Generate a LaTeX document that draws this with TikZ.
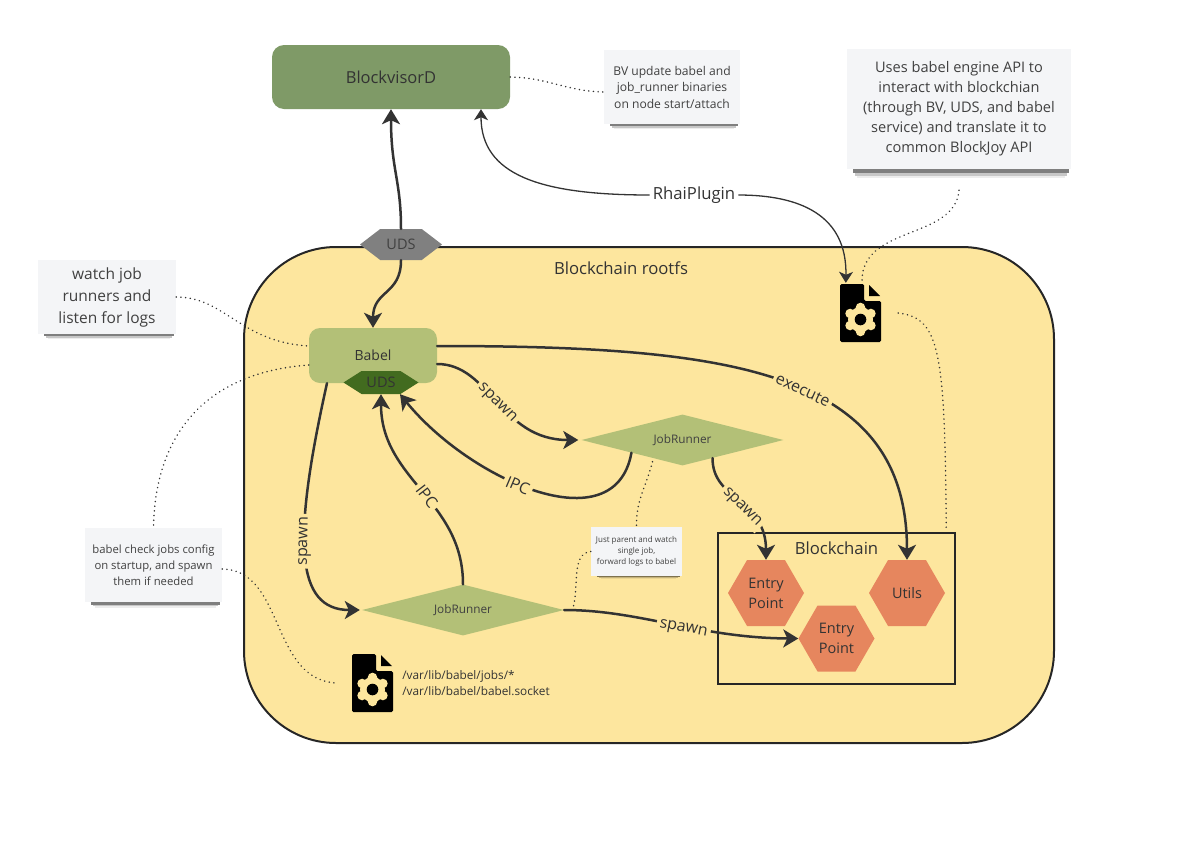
\documentclass[tikz,border=0pt]{standalone}
\usepackage{fontspec}
\setmainfont{Open Sans}
\usepackage{tikz}
\usetikzlibrary{positioning,arrows.meta,shapes.geometric,shapes.symbols}
\definecolor{mygreen}{RGB}{127,154,103}
\definecolor{mylime}{RGB}{179,192,119}
\definecolor{mymoss}{RGB}{66,107,31}
\definecolor{myyellow}{RGB}{253,230,158}
\definecolor{myorange}{RGB}{230,134,94}
\definecolor{mypaper}{RGB}{244,245,247}
\definecolor{myink}{RGB}{51,51,51}
\newcommand{\filedoc}{
\fill[black,rounded corners=1.5pt] (-20.5,-29) -- (3.5,-29) -- (3.5,-12) -- (20.5,-12) -- (20.5,29) -- (-20.5,29) -- cycle;
\fill[black] (8.5,-28) -- (19.5,-17) -- (8.5,-17) -- cycle;
\fill[myyellow] (0,6.5) circle (12.5pt);
\foreach \ang in {30,90,150,210,270,330}
\fill[myyellow] (0,6.5) ++(\ang:12) circle (4.8pt);
\fill[black] (0,6.5) circle (5.8pt);
}
\tikzset{noteshade/.style={append after command={\pgfextra{
\fill[black,opacity=.5] ([xshift=6pt]\tikzlastnode.south west) rectangle ([xshift=-2pt,yshift=-#1*.4pt]\tikzlastnode.south east);
\fill[black,opacity=.22] ([xshift=8pt,yshift=-#1*.4pt]\tikzlastnode.south west) rectangle ([xshift=-4pt,yshift=-#1*.7pt]\tikzlastnode.south east);
\fill[black,opacity=.07] ([xshift=10pt,yshift=-#1*.7pt]\tikzlastnode.south west) rectangle ([xshift=-6pt,yshift=-#1*1pt]\tikzlastnode.south east);
}}}}

\begin{document}
\begin{tikzpicture}[x=1pt,y=-1pt,on grid,inner sep=0pt]
\tikzstyle{bvbox}=[rectangle, rounded corners=12pt, fill=mygreen, minimum width=238pt, minimum height=64pt, text=black!80, font=\fontsize{16.5}{20}\selectfont]
\tikzstyle{babelbox}=[rectangle, rounded corners=11pt, fill=mylime, minimum width=128pt, minimum height=55pt, text=black!80, font=\fontsize{14}{16}\selectfont]
\tikzstyle{rootfs}=[rectangle, rounded corners=92pt, fill=myyellow, draw=black!85, line width=2pt, minimum width=810pt, minimum height=496pt]
\tikzstyle{udshex}=[signal, signal to=west and east, signal pointer angle=75, minimum width=82pt, minimum height=31pt, fill=black!50, text=black!75, font=\fontsize{14.5}{16}\selectfont]
\tikzstyle{udsinner}=[signal, signal to=west and east, signal pointer angle=65, minimum width=75pt, minimum height=23pt, fill=mymoss, text=black!80, font=\fontsize{14.5}{16}\selectfont]
\tikzstyle{runner}=[diamond, aspect=4, minimum width=202pt, minimum height=51pt, fill=mylime, text=black!75, font=\fontsize{11.8}{14}\selectfont]
\tikzstyle{hexa}=[signal, signal to=west and east, signal pointer angle=120, minimum width=76pt, minimum height=66pt, fill=myorange, align=center, text=black!80, font=\fontsize{14.5}{20}\selectfont]
\tikzstyle{chain}=[rectangle, draw=black!85, line width=2.5pt, minimum width=237pt, minimum height=151pt]
\tikzstyle{note}=[rectangle, fill=mypaper, align=center, text=black!75]
\tikzstyle{filedoc}=[rectangle, minimum width=41pt, minimum height=58pt, path picture={\filedoc}]
\tikzstyle{title}=[text=black!80, font=\fontsize{16.7}{20}\selectfont]
\tikzstyle{wire}=[line width=2.5pt, draw=myink, line cap=round, -{Stealth[length=15pt,width=18pt,inset=4pt]}]
\tikzstyle{thinwire}=[line width=1.3pt, draw=myink, -{Stealth[length=11pt,width=14pt,inset=3pt]}]
\tikzstyle{hint}=[line width=1.6pt, draw=myink, line cap=round, dash pattern=on .1pt off 4.6pt]
\tikzstyle{tag}=[fill=myyellow, inner sep=3pt, text=black!80, font=\fontsize{16}{20}\selectfont]
\useasboundingbox (0,0) rectangle (1179,847);
\node[bvbox] (bvd) at (391,77) {BlockvisorD};
\node[rootfs] (rootfs) at (649,495) {};
\node[title] (rootfslabel) [above left=227pt and 28pt of rootfs] {Blockchain rootfs};
\node[udshex] (uds) [below right=167.5pt and 10pt of bvd] {UDS};
\node[babelbox] (babel) [below left=111pt and 28pt of uds] {Babel};
\node[udsinner] (udsb) [below right=27pt and 8pt of babel] {UDS};
\node[runner] (runnera) [below right=84.5pt and 309.5pt of babel] {JobRunner};
\node[runner] (runnerb) [below right=254.5pt and 90pt of babel] {JobRunner};
\node[chain] (chainbox) [above right=1.5pt and 373.5pt of runnerb] {};
\node[title] (chainlabel) [above=60.5pt of chainbox] {Blockchain};
\node[hexa] (entrya) [above left=15.5pt and 70.5pt of chainbox] {Entry\\Point};
\node[hexa] (entryb) [below=30pt of chainbox] {Entry\\Point};
\node[hexa] (utils) [above right=15.5pt and 70.5pt of chainbox] {Utils};
\node[filedoc] (pluginfile) [below right=236pt and 469.5pt of bvd] {};
\node[filedoc] (jobfile) [below left=73pt and 90.5pt of runnerb] {};
\node[align=left, text=black!80, font=\fontsize{11.8}{16}\selectfont] (jobpaths) [right=103.5pt of jobfile] {/var/lib/babel/jobs/*\\/var/lib/babel/babel.socket};
\node[note, noteshade=5, minimum width=136pt, minimum height=74pt, font=\fontsize{12.1}{16.5}\selectfont] (bvnote) [below right=10pt and 281pt of bvd] {BV update babel and\\job\_runner binaries\\on node start/attach};
\node[note, noteshade=9, minimum width=224pt, minimum height=120pt, font=\fontsize{14.6}{20}\selectfont] (apinote) [below right=32pt and 568pt of bvd] {Uses babel engine API to\\interact with blockchian\\(through BV, UDS, and babel\\service) and translate it to\\common BlockJoy API};
\node[note, noteshade=5, minimum width=138pt, minimum height=74pt, font=\fontsize{15.5}{22}\selectfont] (watchnote) [above left=58.5pt and 266pt of babel] {watch job\\runners and\\listen for logs};
\node[note, noteshade=6, minimum width=137pt, minimum height=74pt, font=\fontsize{11.3}{16}\selectfont] (checknote) [below left=209.5pt and 219.5pt of babel] {babel check jobs config\\on startup, and spawn\\them if needed};
\node[note, noteshade=2.5, minimum width=91pt, minimum height=49pt, font=\fontsize{8}{11}\selectfont] (parentnote) [above right=58.5pt and 173.5pt of runnerb] {Just parent and watch\\single job,\\forward logs to babel};
\node[fill=white, inner sep=3pt, text=black!80, font=\fontsize{16.7}{20}\selectfont] (rhai) [below right=118pt and 303pt of bvd] {RhaiPlugin};
\draw[wire] (uds.north) .. controls (401,180) and (391,170) .. (bvd.south);
\draw[wire] (uds.south) .. controls (401,295) and (373,290) .. (babel.north);
\draw[thinwire] (rhai.west) .. controls (540,195) and (481,175) .. ([xshift=90pt]bvd.south);
\draw[thinwire] (rhai.east) .. controls (800,195) and (847,215) .. ([xshift=6pt,yshift=1pt]pluginfile.north west);
\draw[wire] ([yshift=9.5pt]babel.east) .. controls (730,346) and (907,370) .. node[tag,sloped,pos=.545] {execute} (utils.north);
\draw[wire] ([yshift=-8.5pt]babel.east) .. controls (490,364) and (500,440) .. node[tag,sloped,yshift=-2pt] {spawn} ([xshift=-3pt]runnera.west);
\draw[wire] (runnera.194) .. controls (615,545) and (470,480) .. node[tag,sloped,pos=.56,yshift=-2pt] {IPC} ([xshift=19pt]udsb.south);
\draw[wire] (runnerb.north) .. controls (463,500) and (381,480) .. node[tag,sloped,pos=.46] {IPC} (udsb.south);
\draw[wire] ([xshift=-46pt]babel.south) .. controls (292,540) and (295,610) .. node[tag,rotate=89,pos=.44] {spawn} ([xshift=-2pt]runnerb.west);
\draw[wire] (runnera.-31.4) .. controls (712,500) and (766,500) .. node[tag,sloped,pos=.55,yshift=-2pt] {spawn} (entrya.north);
\draw[wire] (runnerb.east) .. controls (640,610) and (700,638) .. node[tag,sloped,pos=.55,yshift=-3pt] {spawn} (entryb.west);
\draw[hint] (bvd.east) .. controls (550,78) and (565,91) .. ([yshift=-5pt]bvnote.west);
\draw[hint] ([yshift=-21pt]apinote.south) .. controls (955,240) and (862,225) .. ([xshift=1.5pt,yshift=3pt]pluginfile.north);
\draw[hint] ([xshift=17pt]pluginfile.east) .. controls (940,318) and (945,350) .. ([xshift=-10pt]chainbox.north east);
\draw[hint] (watchnote.east) .. controls (225,297) and (240,342) .. ([yshift=9.5pt]babel.west);
\draw[hint] ([yshift=-9.5pt]babel.west) .. controls (210,372) and (155,430) .. (checknote.north);
\draw[hint] ([yshift=-4pt]checknote.east) .. controls (285,570) and (270,680) .. ([xshift=-15pt]jobfile.west);
\draw[hint] ([xshift=-30pt,yshift=4pt]runnera.south) .. controls (645,490) and (636,500) .. (parentnote.north);
\draw[hint] (parentnote.west) .. controls (570,553) and (580,590) .. ([xshift=8pt]runnerb.east);
\end{tikzpicture}
\end{document}
